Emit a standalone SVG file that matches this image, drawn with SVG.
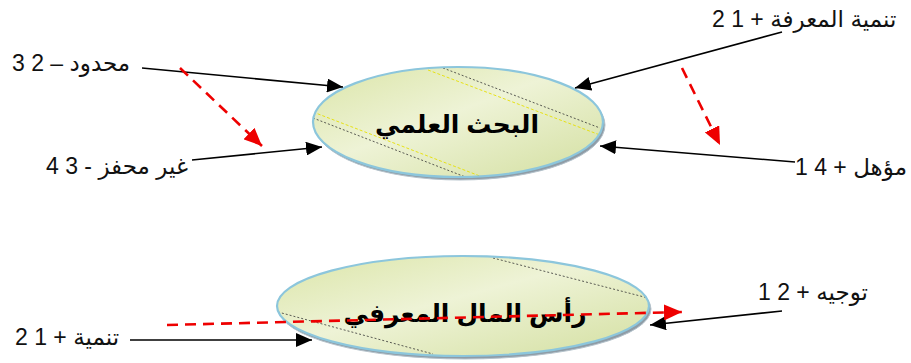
<svg xmlns="http://www.w3.org/2000/svg" width="911" height="363" viewBox="0 0 911 363">
  <style>
    .lbl { font-family: "Liberation Sans", "DejaVu Sans", sans-serif; font-size: 23px; fill: #111; }
    .title { font-family: "Liberation Sans", "DejaVu Sans", sans-serif; font-size: 25px; font-weight: bold; fill: #000; }
    .conn { stroke: #000; stroke-width: 1.6; fill: none; marker-end: url(#blk); }
    .flow { stroke: #ee0000; stroke-width: 2.6; fill: none; stroke-dasharray: 11 7; marker-end: url(#red); }
    .rim { fill: none; stroke: #8cc6dc; stroke-width: 2.2; }
    .edge { fill: #8f9ca6; stroke: #b5c3cc; stroke-width: 1; }
    .dk { stroke: #333; stroke-width: 0.8; stroke-dasharray: 2 2; fill: none; }
    .yl { stroke: #e6e000; stroke-width: 0.9; stroke-dasharray: 3 2; fill: none; }
  </style>
  <defs>
    <linearGradient id="fill" x1="0" y1="0" x2="1" y2="1">
      <stop offset="0" stop-color="#dbe5a8"/>
      <stop offset="0.45" stop-color="#eef3d6"/>
      <stop offset="1" stop-color="#d3dfa0"/>
    </linearGradient>
    <marker id="blk" markerUnits="userSpaceOnUse" markerWidth="18" markerHeight="14" refX="16" refY="7" orient="auto">
      <path d="M0,0 L16,7 L0,14 Z" fill="#000"/>
    </marker>
    <marker id="red" markerUnits="userSpaceOnUse" markerWidth="20" markerHeight="16" refX="18" refY="8" orient="auto">
      <path d="M0,0 L18,8 L0,16 Z" fill="#ee0000"/>
    </marker>
    <clipPath id="c1"><ellipse cx="458" cy="122" rx="145" ry="55"/></clipPath>
    <clipPath id="c2"><ellipse cx="463" cy="306" rx="186" ry="50"/></clipPath>
  </defs>

  <!-- upper node -->
  <g id="research">
    <ellipse class="edge" cx="460" cy="125" rx="145" ry="55"/>
    <ellipse cx="458" cy="122" rx="145" ry="55" fill="url(#fill)"/>
    <g clip-path="url(#c1)">
      <line class="dk" x1="443" y1="68" x2="600" y2="128"/>
      <line class="yl" x1="428" y1="70" x2="600" y2="135"/>
      <line class="yl" x1="313" y1="112" x2="485" y2="178"/>
      <line class="dk" x1="313" y1="118" x2="468" y2="178"/>
    </g>
    <ellipse class="rim" cx="458" cy="122" rx="145" ry="55"/>
    <text class="title" x="457" y="133" text-anchor="middle">البحث العلمي</text>
  </g>

  <!-- lower node -->
  <g id="capital">
    <ellipse class="edge" cx="465" cy="309" rx="186" ry="50"/>
    <ellipse cx="463" cy="306" rx="186" ry="50" fill="url(#fill)"/>
    <g clip-path="url(#c2)">
      <line class="dk" x1="493" y1="258" x2="648" y2="298"/>
      <line class="dk" x1="278" y1="312" x2="433" y2="354"/>
    </g>
    <ellipse class="rim" cx="463" cy="306" rx="186" ry="50"/>
    <text class="title" x="465" y="322" text-anchor="middle">رأس المال المعرفي</text>
  </g>

  <!-- labels -->
  <g id="labels">
    <text class="lbl" x="12" y="71">محدود – 2 3</text>
    <text class="lbl" x="46" y="174">غير محفز - 3 4</text>
    <text class="lbl" x="712" y="27">تنمية المعرفة + 1 2</text>
    <text class="lbl" x="795" y="175">مؤهل + 4 1</text>
    <text class="lbl" x="15" y="345">تنمية + 1 2</text>
    <text class="lbl" x="758" y="300">توجيه + 2 1</text>
  </g>

  <!-- connectors -->
  <g id="connectors">
    <line class="conn" x1="142" y1="68" x2="343" y2="87"/>
    <line class="conn" x1="192" y1="160" x2="322" y2="147"/>
    <line class="conn" x1="782" y1="32" x2="575" y2="88"/>
    <line class="conn" x1="795" y1="162" x2="600" y2="146"/>
    <line class="conn" x1="130" y1="340" x2="312" y2="340"/>
    <line class="conn" x1="782" y1="311" x2="650" y2="325"/>
    <line class="flow" x1="180" y1="68" x2="262" y2="146"/>
    <line class="flow" x1="682" y1="68" x2="720" y2="145"/>
    <line class="flow" x1="167" y1="325" x2="682" y2="312"/>
  </g>
</svg>
